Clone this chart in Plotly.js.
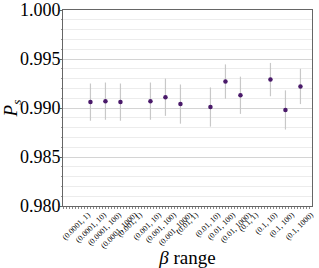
<!DOCTYPE html>
<html><head><meta charset="utf-8">
<script src="https://cdn.plot.ly/plotly-3.0.1.min.js"></script>
<style>html,body{margin:0;padding:0;background:#fff}#c{width:319px;height:268px}</style>
</head><body><div id="c"></div>
<script>
// Category labels (beta ranges)
const categories = ["(0.0001, 1)","(0.0001, 10)","(0.0001, 100)","(0.0001, 1000)",
  "(0.001, 1)","(0.001, 10)","(0.001, 100)","(0.001, 1000)",
  "(0.01, 1)","(0.01, 10)","(0.01, 100)","(0.01, 1000)",
  "(0.1, 1)","(0.1, 10)","(0.1, 100)","(0.1, 1000)"];
// Category index of each plotted point
const pointCategory = [0,1,2,4,5,6,8,9,10,12,13,14];
// Mean P_s per point
const psMean = [0.9906,0.9907,0.9906,0.9907,0.9911,0.9904,0.9901,0.9927,0.9913,0.9929,0.9898,0.9922];
// Error (half-width) per point
const psErr = [0.0019,0.0019,0.0019,0.0019,0.0019,0.0020,0.0020,0.00175,0.0019,0.0017,0.0020,0.0018];

// Label anchor positions along the x axis (layout)
const tickPos = [-0.18,0.89,1.89,2.95,3.29,4.55,5.55,6.61,7.02,8.49,9.49,10.55,11.02,12.29,13.42,14.69];

const serif = "Liberation Serif";
const trace = {
  x: pointCategory, y: psMean, type: "scatter", mode: "markers",
  marker: {color: "#4a1a6a", size: 4.5},
  error_y: {type: "data", array: psErr, visible: true, color: "#c8c8c8", thickness: 1.2, width: 0},
  hoverinfo: "none"
};
const layout = {
  width: 319, height: 268,
  margin: {l: 63, r: 7, t: 10, b: 62},
  paper_bgcolor: "#fff", plot_bgcolor: "#fff",
  showlegend: false,
  font: {family: serif, color: "#000"},
  xaxis: {
    range: [-1.83, 14.77], tickmode: "array", tickvals: tickPos, ticktext: categories,
    tickangle: -45, tickfont: {family: serif, size: 8, color: "#000"},
    showgrid: false, zeroline: false,
    showline: true, linecolor: "#666", linewidth: 1, mirror: true,
    ticks: "",
    minor: {dtick: 0.2, ticks: "outside", ticklen: 1.5, tickcolor: "#888", tickwidth: 1, showgrid: false},
    title: {text: "<i>β</i> range", font: {family: serif, size: 19, color: "#000"}, standoff: 2}
  },
  yaxis: {
    range: [0.98, 1.0], dtick: 0.005, tickformat: ".3f",
    tickfont: {family: serif, size: 18, color: "#000"},
    ticklabeloverflow: "allow", ticklabelstandoff: -4,
    showgrid: true, gridcolor: "#d4d4d4", gridwidth: 1, zeroline: false,
    showline: true, linecolor: "#666", linewidth: 1, mirror: true,
    ticks: "outside", ticklen: 2, tickcolor: "#666",
    minor: {dtick: 0.001, showgrid: true, gridcolor: "#ececec", ticks: "outside", ticklen: 1.5, tickcolor: "#999"},
    title: {text: "<i>P</i><sub><i>s</i></sub>", font: {family: serif, size: 19, color: "#000"}, standoff: 1}
  }
};
Plotly.newPlot("c", [trace], layout, {staticPlot: true, displayModeBar: false});
</script></body></html>
